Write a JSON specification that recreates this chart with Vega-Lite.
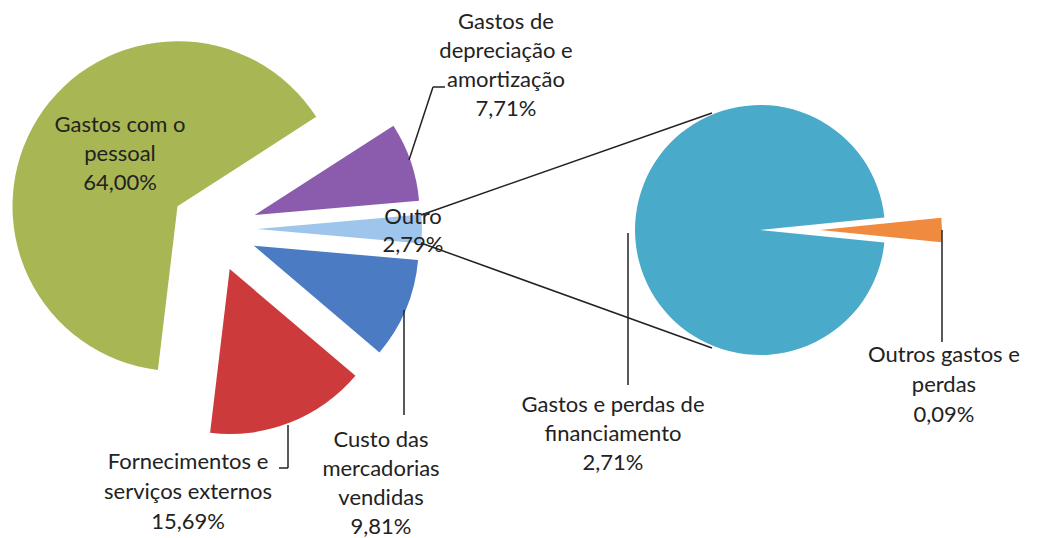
{
  "$schema": "https://vega.github.io/schema/vega-lite/v6.json",
  "width": 1041,
  "height": 538,
  "autosize": {"type": "fit", "contains": "padding"},
  "padding": 0,
  "background": "white",
  "config": {"view": {"stroke": null}},
  "datasets": {
    "slices": [
      {"cat": "Outro", "pie": "main", "order": 1, "value": 2.79, "label": "Outro\n2,79%"},
      {"cat": "Custo das mercadorias vendidas", "pie": "main", "order": 2, "value": 9.81, "label": "Custo das\nmercadorias\nvendidas\n9,81%"},
      {"cat": "Fornecimentos e serviços externos", "pie": "main", "order": 3, "value": 15.69, "label": "Fornecimentos e\nserviços externos\n15,69%"},
      {"cat": "Gastos com o pessoal", "pie": "main", "order": 4, "value": 64.0, "label": "Gastos com o\npessoal\n64,00%"},
      {"cat": "Gastos de depreciação e amortização", "pie": "main", "order": 5, "value": 7.71, "label": "Gastos de\ndepreciação e\namortização\n7,71%"},
      {"cat": "Outros gastos e perdas", "pie": "sub", "order": 1, "value": 0.09, "label": "Outros gastos e\nperdas\n0,09%"},
      {"cat": "Gastos e perdas de financiamento", "pie": "sub", "order": 2, "value": 2.71, "label": "Gastos e perdas de\nfinanciamento\n2,71%"}
    ]
  },
  "data": {"name": "slices"},
  "transform": [
    {"stack": "value", "groupby": ["pie"], "sort": [{"field": "order", "order": "ascending"}], "as": ["v0", "v1"]}
  ],
  "resolve": {"scale": {"theta": "independent"}},
  "layer": [
    {
      "transform": [{"filter": "datum.cat === 'Outro'"}],
      "mark": {"type": "arc", "x": 257, "y": 229, "radius": 165},
      "encoding": {
        "theta": {"field": "v0", "type": "quantitative", "stack": null, "scale": {"domain": [0, 100], "range": [1.48314, 7.76633]}},
        "theta2": {"field": "v1"},
        "color": {"field": "cat", "type": "nominal", "legend": null, "scale": {"domain": ["Gastos com o pessoal", "Fornecimentos e serviços externos", "Custo das mercadorias vendidas", "Outro", "Gastos de depreciação e amortização", "Gastos e perdas de financiamento", "Outros gastos e perdas"], "range": ["#a9b654", "#cd3a3c", "#4a7bc3", "#9ec6ec", "#8b5cae", "#49aac9", "#ef8a3f"]}}
      }
    },
    {
      "transform": [{"filter": "datum.cat === 'Custo das mercadorias vendidas'"}],
      "mark": {"type": "arc", "x": 253.7, "y": 245.6, "radius": 165},
      "encoding": {
        "theta": {"field": "v0", "type": "quantitative", "stack": null, "scale": {"domain": [0, 100], "range": [1.48314, 7.76633]}},
        "theta2": {"field": "v1"},
        "color": {"field": "cat", "type": "nominal", "legend": null}
      }
    },
    {
      "transform": [{"filter": "datum.cat === 'Fornecimentos e serviços externos'"}],
      "mark": {"type": "arc", "x": 229.7, "y": 269, "radius": 165},
      "encoding": {
        "theta": {"field": "v0", "type": "quantitative", "stack": null, "scale": {"domain": [0, 100], "range": [1.48314, 7.76633]}},
        "theta2": {"field": "v1"},
        "color": {"field": "cat", "type": "nominal", "legend": null}
      }
    },
    {
      "transform": [{"filter": "datum.cat === 'Gastos com o pessoal'"}],
      "mark": {"type": "arc", "x": 177.5, "y": 206.2, "radius": 165},
      "encoding": {
        "theta": {"field": "v0", "type": "quantitative", "stack": null, "scale": {"domain": [0, 100], "range": [1.48314, 7.76633]}},
        "theta2": {"field": "v1"},
        "color": {"field": "cat", "type": "nominal", "legend": null}
      }
    },
    {
      "transform": [{"filter": "datum.cat === 'Gastos de depreciação e amortização'"}],
      "mark": {"type": "arc", "x": 254.7, "y": 215.1, "radius": 165},
      "encoding": {
        "theta": {"field": "v0", "type": "quantitative", "stack": null, "scale": {"domain": [0, 100], "range": [1.48314, 7.76633]}},
        "theta2": {"field": "v1"},
        "color": {"field": "cat", "type": "nominal", "legend": null}
      }
    },
    {
      "transform": [{"filter": "datum.cat === 'Gastos e perdas de financiamento'"}],
      "mark": {"type": "arc", "x": 760, "y": 230, "radius": 125},
      "encoding": {
        "theta": {"field": "v0", "type": "quantitative", "stack": null, "scale": {"domain": [0, 2.8], "range": [1.46981, 7.753]}},
        "theta2": {"field": "v1"},
        "color": {"field": "cat", "type": "nominal", "legend": null}
      }
    },
    {
      "transform": [{"filter": "datum.cat === 'Outros gastos e perdas'"}],
      "mark": {"type": "arc", "x": 820, "y": 230, "radius": 122},
      "encoding": {
        "theta": {"field": "v0", "type": "quantitative", "stack": null, "scale": {"domain": [0, 2.8], "range": [1.46981, 7.753]}},
        "theta2": {"field": "v1"},
        "color": {"field": "cat", "type": "nominal", "legend": null}
      }
    },
    {"data": {"values": [{}]}, "mark": {"type": "rule", "color": "#222", "strokeWidth": 1.5}, "encoding": {"x": {"value": 421}, "y": {"value": 215}, "x2": {"value": 712}, "y2": {"value": 113}}},
    {"data": {"values": [{}]}, "mark": {"type": "rule", "color": "#222", "strokeWidth": 1.5}, "encoding": {"x": {"value": 421}, "y": {"value": 243}, "x2": {"value": 712}, "y2": {"value": 348}}},
    {"data": {"values": [{}]}, "mark": {"type": "rule", "color": "#222", "strokeWidth": 1.5}, "encoding": {"x": {"value": 409}, "y": {"value": 160}, "x2": {"value": 433}, "y2": {"value": 87}}},
    {"data": {"values": [{}]}, "mark": {"type": "rule", "color": "#222", "strokeWidth": 1.5}, "encoding": {"x": {"value": 433}, "y": {"value": 87}, "x2": {"value": 445}, "y2": {"value": 87}}},
    {"data": {"values": [{}]}, "mark": {"type": "rule", "color": "#222", "strokeWidth": 1.5}, "encoding": {"x": {"value": 288}, "y": {"value": 425}, "x2": {"value": 288}, "y2": {"value": 468}}},
    {"data": {"values": [{}]}, "mark": {"type": "rule", "color": "#222", "strokeWidth": 1.5}, "encoding": {"x": {"value": 288}, "y": {"value": 468}, "x2": {"value": 279}, "y2": {"value": 468}}},
    {"data": {"values": [{}]}, "mark": {"type": "rule", "color": "#222", "strokeWidth": 1.5}, "encoding": {"x": {"value": 404}, "y": {"value": 310}, "x2": {"value": 404}, "y2": {"value": 415}}},
    {"data": {"values": [{}]}, "mark": {"type": "rule", "color": "#222", "strokeWidth": 1.5}, "encoding": {"x": {"value": 628}, "y": {"value": 233}, "x2": {"value": 628}, "y2": {"value": 385}}},
    {"data": {"values": [{}]}, "mark": {"type": "rule", "color": "#222", "strokeWidth": 1.5}, "encoding": {"x": {"value": 942}, "y": {"value": 230}, "x2": {"value": 942}, "y2": {"value": 342}}},
    {
      "transform": [{"filter": "datum.cat === 'Gastos com o pessoal'"}],
      "mark": {"type": "text", "x": 120, "y": 132, "align": "center", "baseline": "alphabetic", "lineBreak": "\n", "lineHeight": 29, "font": "Lato", "fontSize": 22, "color": "#222"},
      "encoding": {"text": {"field": "label", "type": "nominal"}}
    },
    {
      "transform": [{"filter": "datum.cat === 'Gastos de depreciação e amortização'"}],
      "mark": {"type": "text", "x": 506, "y": 29, "align": "center", "baseline": "alphabetic", "lineBreak": "\n", "lineHeight": 29, "font": "Lato", "fontSize": 22, "color": "#222"},
      "encoding": {"text": {"field": "label", "type": "nominal"}}
    },
    {
      "transform": [{"filter": "datum.cat === 'Outro'"}],
      "mark": {"type": "text", "x": 413, "y": 224, "align": "center", "baseline": "alphabetic", "lineBreak": "\n", "lineHeight": 28, "font": "Lato", "fontSize": 22, "color": "#222"},
      "encoding": {"text": {"field": "label", "type": "nominal"}}
    },
    {
      "transform": [{"filter": "datum.cat === 'Fornecimentos e serviços externos'"}],
      "mark": {"type": "text", "x": 188, "y": 469, "align": "center", "baseline": "alphabetic", "lineBreak": "\n", "lineHeight": 30, "font": "Lato", "fontSize": 22, "color": "#222"},
      "encoding": {"text": {"field": "label", "type": "nominal"}}
    },
    {
      "transform": [{"filter": "datum.cat === 'Custo das mercadorias vendidas'"}],
      "mark": {"type": "text", "x": 381, "y": 447, "align": "center", "baseline": "alphabetic", "lineBreak": "\n", "lineHeight": 29, "font": "Lato", "fontSize": 22, "color": "#222"},
      "encoding": {"text": {"field": "label", "type": "nominal"}}
    },
    {
      "transform": [{"filter": "datum.cat === 'Gastos e perdas de financiamento'"}],
      "mark": {"type": "text", "x": 613, "y": 412, "align": "center", "baseline": "alphabetic", "lineBreak": "\n", "lineHeight": 29, "font": "Lato", "fontSize": 22, "color": "#222"},
      "encoding": {"text": {"field": "label", "type": "nominal"}}
    },
    {
      "transform": [{"filter": "datum.cat === 'Outros gastos e perdas'"}],
      "mark": {"type": "text", "x": 944, "y": 362, "align": "center", "baseline": "alphabetic", "lineBreak": "\n", "lineHeight": 30, "font": "Lato", "fontSize": 22, "color": "#222"},
      "encoding": {"text": {"field": "label", "type": "nominal"}}
    }
  ]
}
